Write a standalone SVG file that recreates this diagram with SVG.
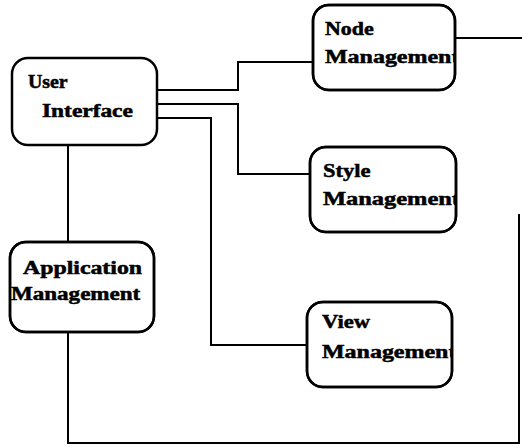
<svg xmlns="http://www.w3.org/2000/svg" width="522" height="448" viewBox="0 0 522 448">
<style>
.box{fill:#fff;stroke:#000;stroke-width:2.5}
.wire{fill:none;stroke:#000;stroke-width:2}
text{font-family:"Liberation Serif","Times New Roman",serif;font-weight:bold;font-size:18px;fill:#000;stroke:#000;stroke-width:0.5}
</style>
<defs>
<clipPath id="cNode"><rect x="313" y="5" width="142" height="85" rx="16"/></clipPath>
<clipPath id="cStyle"><rect x="310" y="147" width="146" height="85" rx="16"/></clipPath>
<clipPath id="cView"><rect x="307" y="302" width="145" height="85" rx="16"/></clipPath>
<clipPath id="cApp"><rect x="10" y="242" width="144" height="90" rx="16"/></clipPath>
</defs>
<g id="connectors">
<polyline class="wire" points="157,90 238,90 238,62 313,62"/>
<polyline class="wire" points="157,104 238,104 238,174 310,174"/>
<polyline class="wire" points="157,118 211,118 211,345 307,345"/>
<polyline class="wire" points="455,38 522,38"/>
<polyline class="wire" points="68,145 68,242"/>
<polyline class="wire" points="68,332 68,443 519,443 519,214"/>
</g>
<g id="user-interface">
<rect class="box" x="12" y="58" width="145" height="87" rx="16"/>
<text transform="translate(28,88) scale(1.28,1)" textLength="31" lengthAdjust="spacingAndGlyphs">User</text>
<text transform="translate(42,117) scale(1.28,1)" textLength="71" lengthAdjust="spacingAndGlyphs">Interface</text>
</g>
<g id="node-management">
<rect class="box" x="313" y="5" width="142" height="85" rx="16"/>
<g clip-path="url(#cNode)">
<text transform="translate(325,35) scale(1.28,1)" textLength="38" lengthAdjust="spacingAndGlyphs">Node</text>
<text transform="translate(325,63) scale(1.28,1)" textLength="105" lengthAdjust="spacingAndGlyphs">Management</text>
</g>
<rect x="313" y="5" width="142" height="85" rx="16" fill="none" stroke="#000" stroke-width="2.5"/>
</g>
<g id="style-management">
<rect class="box" x="310" y="147" width="146" height="85" rx="16"/>
<g clip-path="url(#cStyle)">
<text transform="translate(323,177) scale(1.28,1)" textLength="37" lengthAdjust="spacingAndGlyphs">Style</text>
<text transform="translate(323,205) scale(1.28,1)" textLength="107" lengthAdjust="spacingAndGlyphs">Management</text>
</g>
<rect x="310" y="147" width="146" height="85" rx="16" fill="none" stroke="#000" stroke-width="2.5"/>
</g>
<g id="view-management">
<rect class="box" x="307" y="302" width="145" height="85" rx="16"/>
<g clip-path="url(#cView)">
<text transform="translate(322,328) scale(1.28,1)" textLength="37.5" lengthAdjust="spacingAndGlyphs">View</text>
<text transform="translate(322,358) scale(1.28,1)" textLength="105" lengthAdjust="spacingAndGlyphs">Management</text>
</g>
<rect x="307" y="302" width="145" height="85" rx="16" fill="none" stroke="#000" stroke-width="2.5"/>
</g>
<g id="application-management">
<rect class="box" x="10" y="242" width="144" height="90" rx="16"/>
<g clip-path="url(#cApp)">
<text transform="translate(23,274) scale(1.28,1)" textLength="93" lengthAdjust="spacingAndGlyphs">Application</text>
<text transform="translate(11,300) scale(1.28,1)" textLength="101" lengthAdjust="spacingAndGlyphs">Management</text>
</g>
<rect x="10" y="242" width="144" height="90" rx="16" fill="none" stroke="#000" stroke-width="2.5"/>
</g>
</svg>
